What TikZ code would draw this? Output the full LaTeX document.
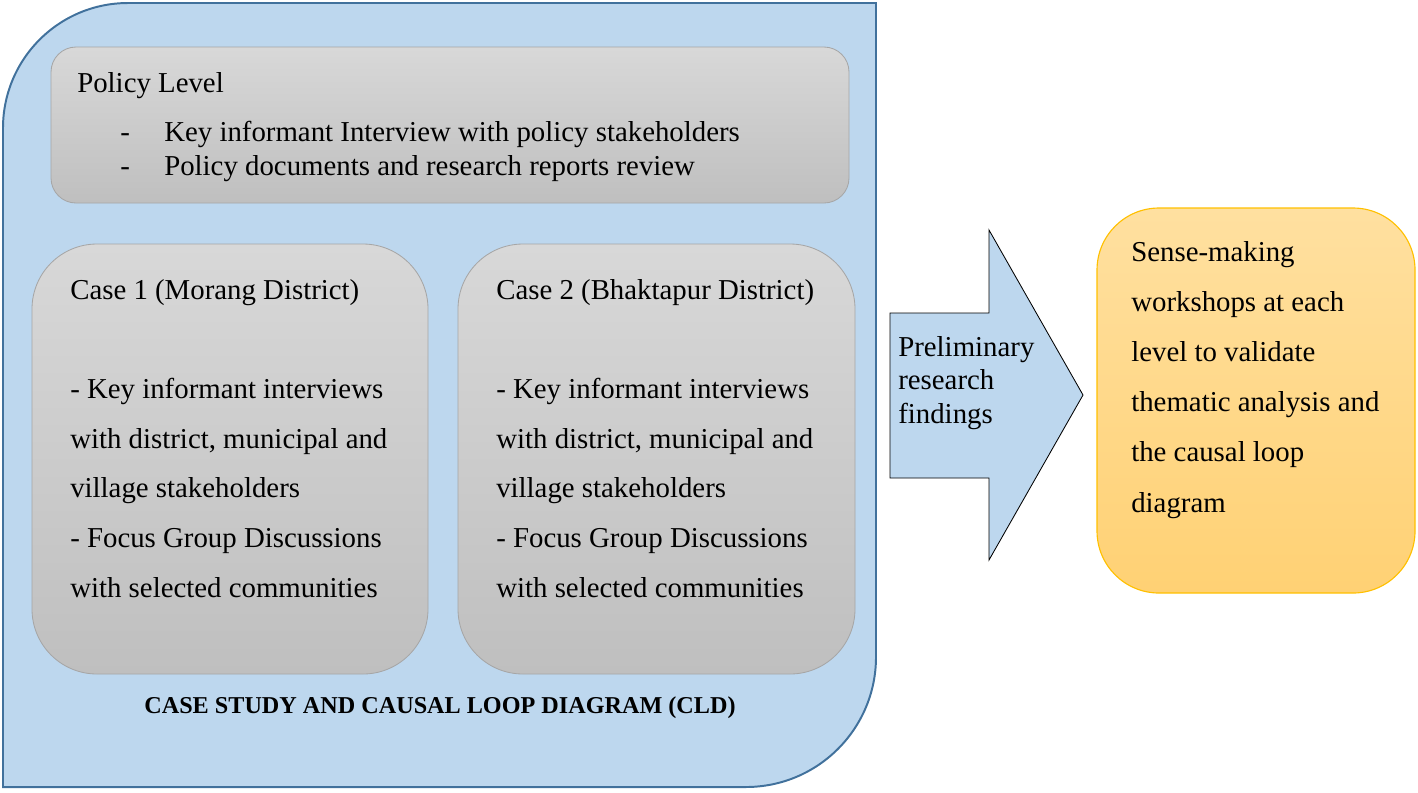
\documentclass[tikz,border=0pt]{standalone}
\usepackage{fontspec}
\setmainfont{Liberation Serif}
\definecolor{frameblue}{HTML}{BDD7EE}
\definecolor{frameedge}{HTML}{41719C}
\definecolor{boxtop}{HTML}{D8D8D8}
\definecolor{boxbot}{HTML}{BFBFBF}
\definecolor{boxedge}{HTML}{A6A6A6}
\definecolor{sensetop}{HTML}{FFE0A0}
\definecolor{sensebot}{HTML}{FFD174}
\definecolor{senseedge}{HTML}{FFC000}
\newcommand\px[1]{#1*0.025cm}
\tikzset{
  graybox/.style={draw=boxedge, line width=0.6pt, top color=boxtop, bottom color=boxbot, inner sep=0pt},
  sensebox/.style={draw=senseedge, line width=0.8pt, top color=sensetop, bottom color=sensebot, inner sep=0pt},
  bodytext/.style={inner sep=0pt, anchor=base west, align=left, font=\fontsize{20.5}{35.3}\selectfont},
  tighttext/.style={bodytext, font=\fontsize{20.5}{23.5}\selectfont}
}

\begin{document}
\begin{tikzpicture}[x=0.025cm, y=0.025cm]
	\useasboundingbox (0,0) rectangle (1418,-792);
	
	% big case study frame
	\draw[fill=frameblue, draw=frameedge, line width=1.4pt] (3,-128) arc (180:90:125) -- (876,-3) -- (876,-657) arc (0:-90:130) -- (3,-787) -- cycle;
	
	\node[graybox, rounded corners=\px{25}, minimum width=\px{798}, minimum height=\px{156}] (policy) at (450,-125) {};
	\node[graybox, rounded corners=\px{65}, minimum width=\px{396}, minimum height=\px{430}] (case1) at (230,-459) {};
	\node[graybox, rounded corners=\px{65}, minimum width=\px{397}, minimum height=\px{430}] (case2) at (656.5,-459) {};
	
	% texts are placed by the baseline of their last line
	\node[bodytext] (policytitle) at (77,-92) {Policy Level};
	\node[tighttext] (policyitems) at (120,-175) {\makebox[31.3pt][l]{-}Key informant Interview with policy stakeholders\\
		\makebox[31.3pt][l]{-}Policy documents and research reports review};
	
	\node[bodytext] (case1text) at (70,-597) {Case 1 (Morang District)\\[35.3pt]
		- Key informant interviews\\ with district, municipal and\\ village stakeholders\\
		- Focus Group Discussions\\ with selected communities};
	\node[bodytext] (case2text) at (496,-597) {Case 2 (Bhaktapur District)\\[35.3pt]
		- Key informant interviews\\ with district, municipal and\\ village stakeholders\\
		- Focus Group Discussions\\ with selected communities};
	
	\node[inner sep=0pt, anchor=base, font=\bfseries\fontsize{17.2}{20}\selectfont] (cldcaption) at (440,-713) {CASE STUDY AND CAUSAL LOOP DIAGRAM (CLD)};
	
	% block arrow
	\draw[fill=frameblue, draw=black, line width=0.6pt] (890,-313) -- (989,-313) -- (989,-230) -- (1083,-395) -- (989,-560) -- (989,-478) -- (890,-478) -- cycle;
	\node[tighttext] (findings) at (898,-423) {Preliminary\\ research\\ findings};
	
	\node[sensebox, rounded corners=\px{62}, minimum width=\px{318}, minimum height=\px{385}] (sense) at (1256,-400.5) {};
	\node[bodytext, font=\fontsize{20.5}{35.6}\selectfont] (sensetext) at (1131,-512) {Sense-making\\ workshops at each\\ level to validate\\ thematic analysis and\\ the causal loop\\ diagram};
	
\end{tikzpicture}
\end{document}
